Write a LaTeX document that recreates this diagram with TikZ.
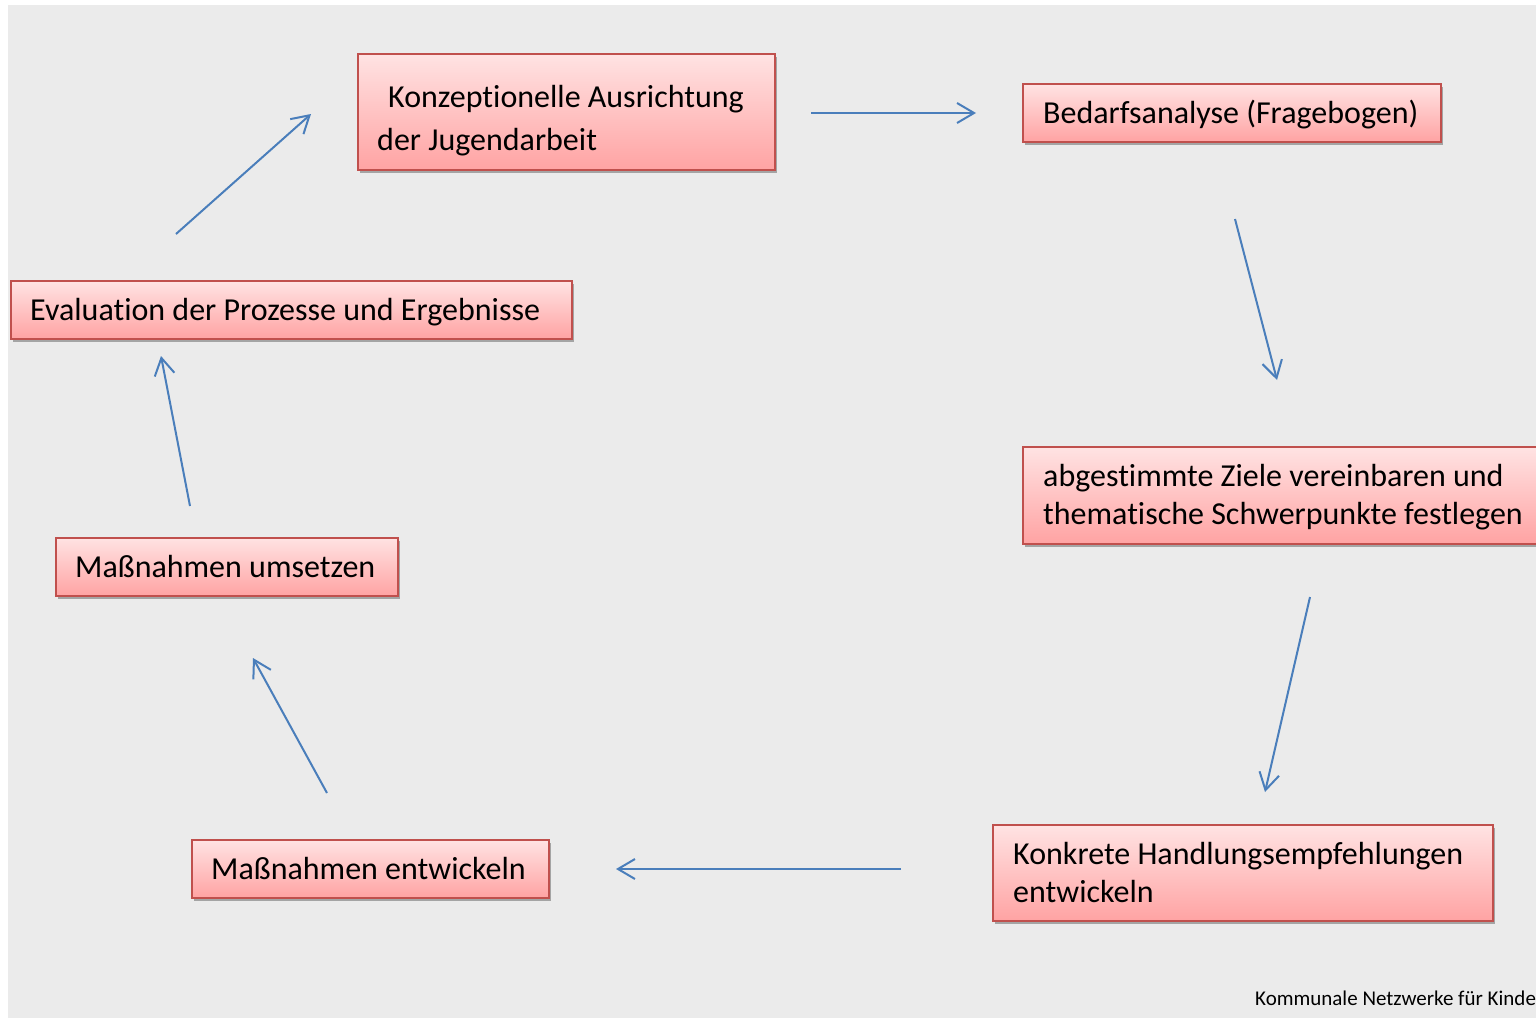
\documentclass[tikz,border=0pt]{standalone}
\usepackage{fontspec}
\setmainfont{Carlito}[Ligatures={NoCommon}]
\usetikzlibrary{arrows.meta,shadows}
\definecolor{bgcol}{HTML}{EBEBEB}
\definecolor{boxline}{HTML}{C0504D}
\definecolor{boxtop}{HTML}{FFE3E3}
\definecolor{boxbot}{HTML}{FFA3A3}
\definecolor{arrcol}{HTML}{4A7EBB}
\newcommand{\twoline}[3]{\vtop{\baselineskip=#3\lineskiplimit=-100pt\hbox{#1}\hbox{#2}}}
\begin{document}
\begin{tikzpicture}[x=1pt,y=-1pt,
  box/.style={draw=boxline, line width=1.6pt, top color=boxtop, bottom color=boxbot,
    rectangle, anchor=north west, inner sep=0pt,
    drop shadow={shadow xshift=2pt, shadow yshift=-3pt, opacity=0.3, fill=black}},
  lbl/.style={anchor=base west, inner sep=0pt, font=\fontsize{32}{38}\selectfont, text=black},
  foot/.style={anchor=base west, inner sep=0pt, font=\fontsize{21}{25}\selectfont, text=black},
  flow/.style={draw=arrcol, line width=2pt, -{Straight Barb[length=17pt,width=20pt,line width=2pt]}}]
\useasboundingbox (0,0) rectangle (1536,1018);
\clip (0,0) rectangle (1536,1018);
\fill[white] (0,0) rectangle (1536,1018);
\fill[bgcol] (8,5) rectangle (1536,1018);

% boxes
\node[box, minimum width=417, minimum height=116] (b1) at (357,53) {};
\node[box, minimum width=418, minimum height=58] (b2) at (1022,83) {};
\node[box, minimum width=530, minimum height=97] (b3) at (1022,446) {};
\node[box, minimum width=500, minimum height=96] (b4) at (992,824) {};
\node[box, minimum width=357, minimum height=58] (b5) at (191,839) {};
\node[box, minimum width=342, minimum height=58] (b6) at (55,537) {};
\node[box, minimum width=561, minimum height=58] (b7) at (10,280) {};

% texts
\node[lbl] (t1) at (377,107) {\twoline{\hspace*{11pt}Konzeptionelle Ausrichtung}{der Jugendarbeit}{43pt}};
\node[lbl] (t2) at (1043,123) {Bedarfsanalyse (Fragebogen)};
\node[lbl] (t3) at (1043,486) {\twoline{abgestimmte Ziele vereinbaren und}{thematische Schwerpunkte festlegen}{38pt}};
\node[lbl] (t4) at (1013,864) {\twoline{Konkrete Handlungsempfehlungen}{entwickeln}{38pt}};
\node[lbl] (t5) at (211,879) {Maßnahmen entwickeln};
\node[lbl] (t6) at (75,577) {Maßnahmen umsetzen};
\node[lbl] (t7) at (30,320) {Evaluation der Prozesse und Ergebnisse};

\node[foot] (ft) at (1255,1005) {Kommunale Netzwerke für Kinde};

% arrow ends
\coordinate (a1s) at (811,113); \coordinate (a1e) at (976,113);
\coordinate (a2s) at (1235,219); \coordinate (a2e) at (1277,380);
\coordinate (a3s) at (1310,597); \coordinate (a3e) at (1265,792);
\coordinate (a4s) at (901,869); \coordinate (a4e) at (616,869);
\coordinate (a5s) at (327,793); \coordinate (a5e) at (253,658);
\coordinate (a6s) at (190,506); \coordinate (a6e) at (161,356);
\coordinate (a7s) at (176,234); \coordinate (a7e) at (311,114);

\draw[flow] (a1s) -- (a1e);
\draw[flow] (a2s) -- (a2e);
\draw[flow] (a3s) -- (a3e);
\draw[flow] (a4s) -- (a4e);
\draw[flow] (a5s) -- (a5e);
\draw[flow] (a6s) -- (a6e);
\draw[flow] (a7s) -- (a7e);
\end{tikzpicture}
\end{document}
